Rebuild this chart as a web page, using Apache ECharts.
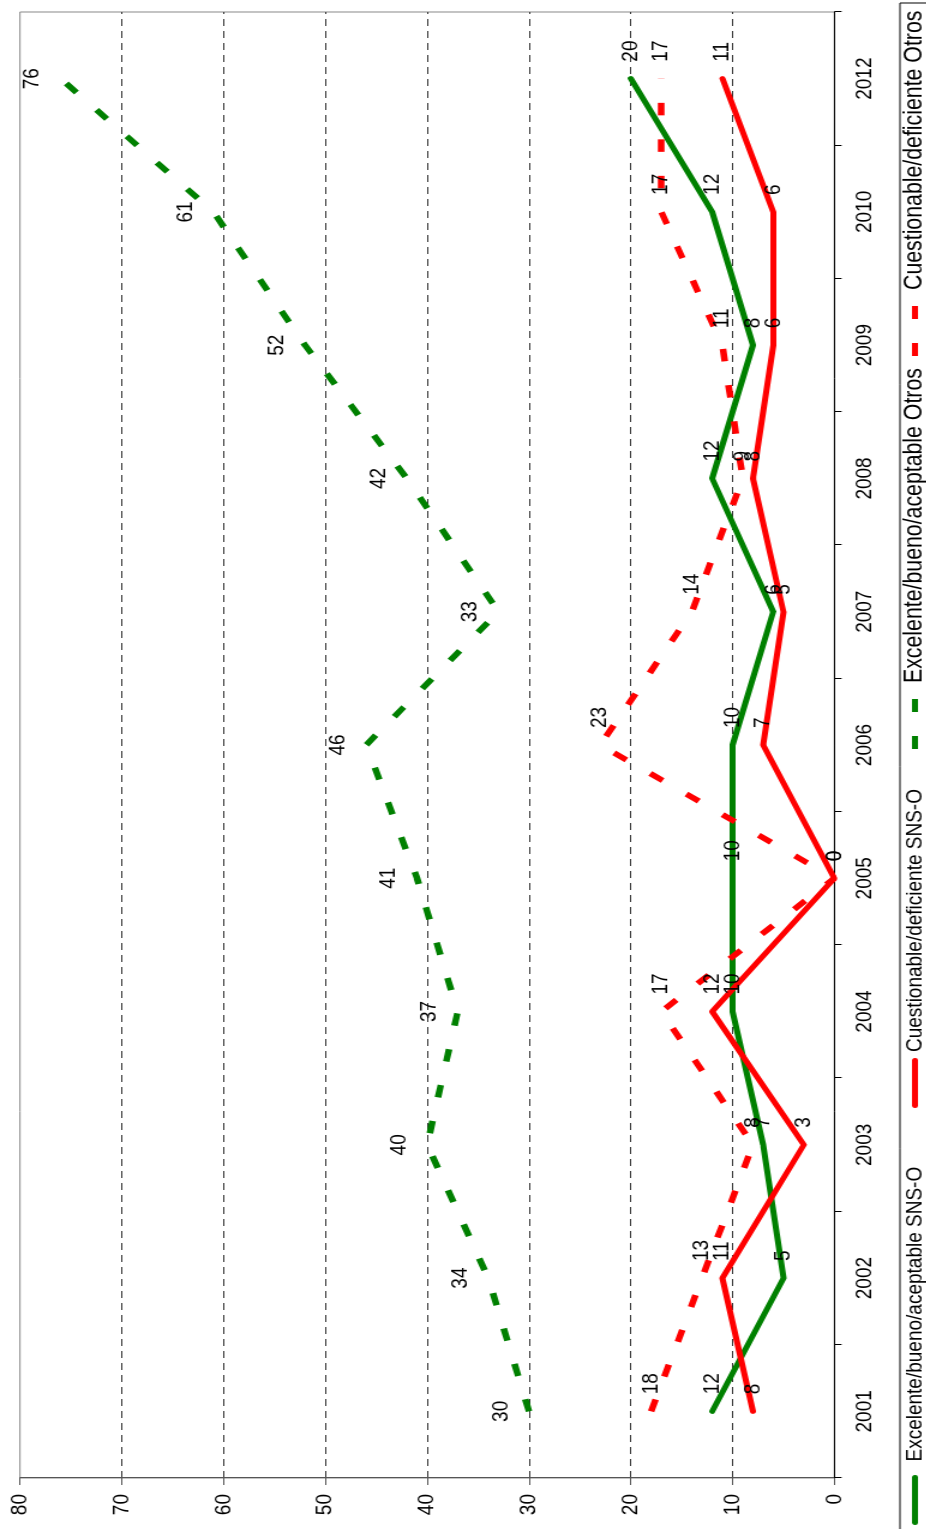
<!DOCTYPE html>
<html>
<head>
<meta charset="utf-8">
<script src="https://cdn.jsdelivr.net/npm/echarts@6/dist/echarts.min.js"></script>
<style>
  html, body { margin: 0; padding: 0; background: #fff; overflow: hidden; }
  #page { position: relative; width: 926px; height: 1529px; overflow: hidden; background: #fff; }
  /* The chart is laid out landscape and turned a quarter turn to stand upright on the page. */
  #chart {
    position: absolute; left: 0; top: 0;
    width: 1529px; height: 771.667px;
    transform-origin: 0 0;
    transform: translate(0px, 1529px) rotate(-90deg) scale(1, 1.2);
  }
</style>
</head>
<body>
<div id="page"><div id="chart"></div></div>
<script>
const years = ['2001', '2002', '2003', '2004', '2005', '2006', '2007', '2008', '2009', '2010', '2012'];
const excelenteSNSO = [12, 5, 7, 10, 10, 10, 6, 12, 8, 12, 20];
const cuestionableSNSO = [8, 11, 3, 12, 0, 7, 5, 8, 6, 6, 11];
const excelenteOtros = [30, 34, 40, 37, 41, 46, 33, 42, 52, 61, 76];
const cuestionableOtros = [18, 13, 8, 17, 0, 23, 14, 9, 11, 17, 17];
const seriesNames = [
  'Excelente/bueno/aceptable SNS-O',
  'Cuestionable/deficiente SNS-O',
  'Excelente/bueno/aceptable Otros',
  'Cuestionable/deficiente Otros'
];

const FONT = "'Liberation Sans', Arial, sans-serif";
const GREEN = '#008000';
const RED = '#ff0000';
const DASH = [12.5, 24];

// legend keys: a rounded bar for solid lines, two squares for dashed lines
const SOLID_KEY = 'path://M2.5,0H47.5A2.5,2.5,0,0,1,47.5,5H2.5A2.5,2.5,0,0,1,2.5,0Z';
const DASH_KEY = 'path://M0,0H13V5H0ZM37,0H50V5H37Z';

const chart = echarts.init(document.getElementById('chart'), null, { renderer: 'canvas' });

function labelCfg(position, distance) {
  return {
    show: true, position: position, distance: distance,
    color: '#000', fontSize: 19, fontFamily: FONT
  };
}

function legendCfg(name, icon, left, width, fontSize, gap, top) {
  return {
    data: [{ name: name, icon: icon }],
    left: left, top: top, padding: 0,
    itemWidth: width, itemHeight: 5,
    textStyle: { color: '#000', fontSize: fontSize, fontFamily: FONT, padding: [0, 0, 0, gap] },
    selectedMode: false
  };
}

// split lines: none at 0 (category axis) and 80 (plot border)
const splitColors = ['rgba(0,0,0,0)', '#333', '#333', '#333', '#333', '#333', '#333', '#333', 'rgba(0,0,0,0)'];

function lineSeries(name, data, color, dashed, label) {
  return {
    name: name, type: 'line', data: data,
    symbol: 'circle', symbolSize: 0, showSymbol: true, showAllSymbol: true,
    color: color,
    itemStyle: { color: color },
    lineStyle: dashed
      ? { color: color, width: 5.5, type: DASH, cap: 'butt' }
      : { color: color, width: 5, cap: 'round', join: 'round' },
    label: label,
    emphasis: { disabled: true }
  };
}

chart.setOption({
  animation: false,
  backgroundColor: '#fff',
  textStyle: { fontFamily: FONT },
  grid: {
    left: 51, right: 12, top: 16.667, bottom: 76.667,
    show: true, borderColor: '#888', borderWidth: 1
  },
  legend: [
    legendCfg(seriesNames[0], SOLID_KEY, 4, 57, 19, 5, 753),
    legendCfg(seriesNames[1], SOLID_KEY, 421, 50, 19, 1, 753),
    legendCfg(seriesNames[2], DASH_KEY, 780, 50, 21.3, 11, 752),
    legendCfg(seriesNames[3], DASH_KEY, 1173, 50, 21.3, 11, 752)
  ],
  graphic: [{
    type: 'rect',
    shape: { x: -5, y: 750, width: 1531, height: 40 },
    style: { fill: 'none', stroke: '#000', lineWidth: 1 },
    silent: true
  }],
  xAxis: {
    type: 'category',
    data: years,
    boundaryGap: true,
    axisLine: { lineStyle: { color: '#000', width: 1 } },
    axisTick: { show: true, interval: 0, length: 6, lineStyle: { color: '#000' } },
    axisLabel: { interval: 0, margin: 16, color: '#000', fontSize: 19, fontFamily: FONT },
    splitLine: { show: false }
  },
  yAxis: {
    type: 'value',
    min: 0, max: 80, interval: 10,
    axisLine: { show: true, lineStyle: { color: '#555', width: 1 } },
    axisTick: { show: true, length: 7, lineStyle: { color: '#555' } },
    axisLabel: { margin: 16, color: '#000', fontSize: 19, fontFamily: FONT },
    splitLine: { show: true, lineStyle: { color: splitColors, width: 1, type: [7, 5] } }
  },
  series: [
    lineSeries(seriesNames[0], excelenteSNSO, GREEN, false, labelCfg('right', 17)),
    lineSeries(seriesNames[1], cuestionableSNSO, RED, false, labelCfg('right', 17)),
    lineSeries(seriesNames[2], excelenteOtros, GREEN, true, labelCfg('top', 14)),
    lineSeries(seriesNames[3], cuestionableOtros, RED, true, labelCfg('right', 17))
  ]
});
</script>
</body>
</html>
